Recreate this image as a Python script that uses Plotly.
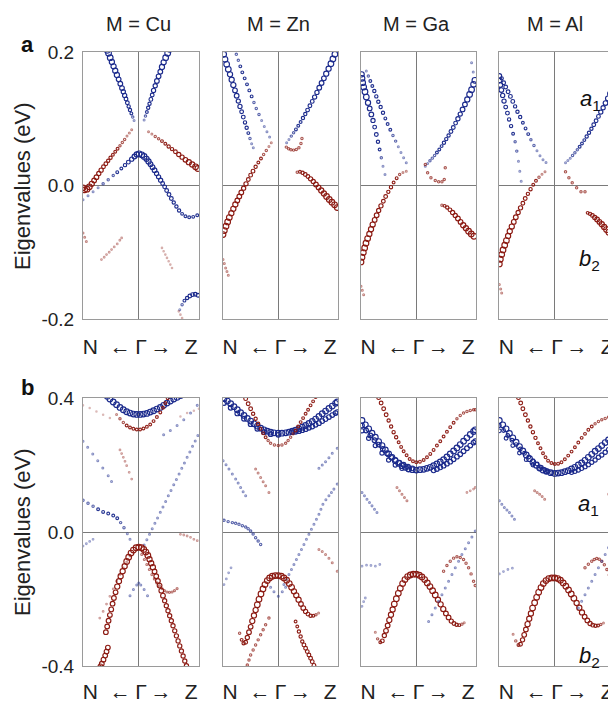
import plotly.graph_objects as go

BLUE = "#1b2a8c"
RED = "#8c1a12"
COLORS = {"b": BLUE, "r": RED}

# ---------------- data: fat bands (k along N<-Gamma->Z, energy in eV, projected weight) -------------
# panel a, M = Cu
A_CU = [
    ("b", [-0.084,-0.108,-0.133,-0.157,-0.181,-0.205,-0.229,-0.253,-0.277,-0.301,-0.331,-0.361,-0.392,-0.422,-0.452,-0.482,-0.512,-0.542,-0.566],
          [0.0975,0.1025,0.108,0.113,0.1185,0.124,0.1295,0.135,0.1405,0.146,0.1525,0.159,0.1655,0.172,0.1785,0.185,0.1915,0.198,0.2025],
          [1,1.5,2,2.5,2.5,3,3,3.5,3.5,4,4,4,4.5,4.5,4.5,4.5,5,5,5]),
    ("b", [0.096,0.12,0.145,0.169,0.193,0.217,0.241,0.265,0.295,0.325,0.355,0.386,0.416,0.446,0.482,0.518,0.554],
          [0.098,0.104,0.11,0.1165,0.1225,0.129,0.1355,0.1425,0.1495,0.1565,0.1635,0.1705,0.1775,0.1845,0.1915,0.198,0.204],
          [1,1.5,2,2.5,2.5,3,3,3.5,3.5,4,4,4,4.5,4.5,5,5,5]),
    ("r", [-0.127,-0.169,-0.211,-0.253,-0.295,-0.337,-0.38,-0.422,-0.464,-0.506,-0.548,-0.59,-0.633,-0.675,-0.717,-0.759,-0.801,-0.843,-0.886,-0.928,-0.97,-1.0],
          [0.0835,0.0785,0.074,0.069,0.0645,0.0595,0.055,0.0505,0.046,0.0415,0.037,0.0325,0.028,0.023,0.018,0.0125,0.0075,0.0025,-0.002,-0.0055,-0.0065,-0.0035],
          [1,1,1,1.5,1.5,1.5,2,2,2,2.5,2.5,3,3,3.5,3.5,4,4,4.5,5,5,5,5]),
    ("b", [-1.0,-0.91,-0.819,-0.729,-0.639,-0.548,-0.458,-0.386,-0.313,-0.247,-0.187,-0.127,-0.078,-0.036,0.006,0.054,0.096,0.139,0.175,0.211,0.247,0.283,0.319,0.355,0.392,0.428,0.464,0.5,0.542,0.584,0.627,0.675,0.723,0.777,0.837,0.904,0.976,1.048],
          [-0.0215,-0.0155,-0.0095,-0.0035,0.0025,0.0085,0.015,0.02,0.0255,0.0305,0.035,0.0395,0.0435,0.0465,0.0475,0.046,0.0435,0.04,0.036,0.032,0.0275,0.023,0.018,0.013,0.008,0.003,-0.002,-0.0075,-0.0135,-0.0195,-0.0255,-0.0315,-0.0375,-0.0425,-0.046,-0.0475,-0.047,-0.0445],
          [1,1,1,1,1.5,1.5,1.5,2,2,2.5,3,3.5,4,4.5,5,5,5,4.5,4.5,4,4,4,3.5,3.5,3.5,3,3,3,3,3,2.5,2.5,2.5,2,2,2,2,2]),
    ("r", [0.175,0.235,0.295,0.355,0.416,0.476,0.536,0.596,0.657,0.717,0.777,0.837,0.898,0.958,1.018,1.06],
          [0.0805,0.077,0.0735,0.07,0.0665,0.0625,0.0585,0.0545,0.0505,0.0465,0.0425,0.0385,0.035,0.0315,0.028,0.0255],
          [1,1,1.5,1.5,2,2,2.5,2.5,3,3.5,3.5,4,4.5,4.5,5,5]),
    ("r", [-1.0,-0.97,-0.94], [-0.071,-0.0775,-0.084], 1),
    ("r", [-0.669,-0.62,-0.578,-0.53,-0.488,-0.44,-0.386,-0.34,-0.307],
          [-0.111,-0.1075,-0.1035,-0.1,-0.096,-0.092,-0.0875,-0.082,-0.0785], 0.8),
    ("r", [0.416,0.446,0.476,0.506,0.536,0.566,0.596], [-0.0935,-0.0985,-0.1035,-0.1085,-0.1135,-0.1185,-0.1235], 0.6),
    ("b", [0.735,0.777,0.819,0.867,0.916,0.964,1.012,1.06], [-0.186,-0.1785,-0.1725,-0.1685,-0.1655,-0.1635,-0.163,-0.1645],
          [1,1.5,2,2.5,3,3,3,3]),
    ("r", [0.717,0.747,0.777], [-0.1885,-0.1935,-0.1985], 0.6),
]

# panel a, M = Zn
A_ZN = [
    ("b", [-0.988,-0.964,-0.934,-0.904,-0.873,-0.843,-0.813,-0.783,-0.753,-0.723,-0.693,-0.663,-0.633,-0.602,-0.572,-0.542,-0.512,-0.482,-0.452],
          [0.1965,0.189,0.1815,0.174,0.1665,0.1585,0.1505,0.1425,0.1345,0.1265,0.1185,0.1105,0.1025,0.0945,0.0865,0.0785,0.0705,0.0625,0.0565],
          [5,5,5,5,4.5,4.5,4.5,4,4,3.5,3.5,3,3,2.5,2.5,2,1.5,1,1]),
    ("b", [-0.759,-0.723,-0.687,-0.651,-0.608,-0.566,-0.524,-0.482,-0.44,-0.398,-0.349,-0.301,-0.253,-0.205,-0.157],
          [0.1965,0.1875,0.1785,0.1695,0.1605,0.1515,0.1425,0.1335,0.1245,0.1155,0.1065,0.0975,0.0885,0.0805,0.0725],
          [1.5,1.5,2,2,2,2,2,2,1.5,1.5,1.5,1,1,1,1]),
    ("r", [-1.0,-0.976,-0.946,-0.916,-0.886,-0.849,-0.813,-0.777,-0.741,-0.705,-0.669,-0.627,-0.584,-0.542,-0.5,-0.458,-0.41,-0.361,-0.313,-0.265,-0.217,-0.169,-0.127],
          [-0.0735,-0.0675,-0.061,-0.0545,-0.048,-0.0415,-0.035,-0.0285,-0.0225,-0.0165,-0.0105,-0.004,0.0025,0.009,0.0155,0.0215,0.028,0.0345,0.0405,0.0465,0.0525,0.0585,0.064],
          [5,5,5,5,5,4.5,4.5,4.5,4,4,4,3.5,3.5,3,3,3,2.5,2,2,1.5,1.5,1,1]),
    ("r", [-1.0,-0.976,-0.952,-0.928,-0.904], [-0.111,-0.117,-0.1235,-0.129,-0.1345], 1),
    ("b", [0.151,0.193,0.235,0.277,0.319,0.361,0.404,0.446,0.488,0.53,0.572,0.614,0.657,0.699,0.741,0.783,0.825,0.867,0.91,0.952,0.988,1.024],
          [0.064,0.069,0.074,0.079,0.084,0.0895,0.095,0.101,0.107,0.113,0.1195,0.126,0.1325,0.1395,0.1465,0.1535,0.1605,0.1675,0.175,0.1825,0.1895,0.1965],
          [1,1,1.5,1.5,2,2,2,2.5,2.5,3,3,3,3.5,3.5,4,4,4,4.5,4.5,5,5,5]),
    ("r", [0.145,0.187,0.229,0.277,0.325,0.373,0.41,0.428], [0.0575,0.055,0.0535,0.053,0.054,0.0565,0.063,0.0705], 1.5),
    ("r", [0.343,0.392,0.44,0.488,0.536,0.584,0.633,0.681,0.729,0.777,0.825,0.873,0.922,0.97,1.018,1.066],
          [0.02,0.0205,0.019,0.0165,0.0135,0.01,0.006,0.0015,-0.003,-0.0075,-0.012,-0.0165,-0.021,-0.025,-0.029,-0.033],
          [1.5,2,2.5,3,3,3.5,3.5,4,4,4.5,4.5,5,5,5,5,5]),
]

# panel a, M = Ga
A_GA = [
    ("b", [-0.988,-0.982,-0.97,-0.952,-0.928,-0.904,-0.873,-0.843,-0.813,-0.783,-0.753,-0.723,-0.693,-0.663,-0.633,-0.602,-0.566],
          [0.1665,0.1605,0.154,0.1475,0.1405,0.1325,0.124,0.1155,0.1065,0.0975,0.0875,0.0765,0.0655,0.054,0.0415,0.029,0.0165],
          [4.5,5,5,5,5,5,4.5,4,4,3.5,3,3,2.5,2,1.5,1,1]),
    ("b", [-0.904,-0.867,-0.831,-0.795,-0.759,-0.723,-0.687,-0.645,-0.602,-0.56,-0.518,-0.47,-0.422,-0.373,-0.325,-0.277,-0.229,-0.181],
          [0.1715,0.164,0.1565,0.149,0.1415,0.1335,0.1255,0.1175,0.109,0.1005,0.092,0.0835,0.075,0.0665,0.058,0.0495,0.0415,0.034],
          [1,1.5,2,2,2.5,2.5,2.5,2.5,2.5,2,2,2,1.5,1.5,1,1,1,1]),
    ("r", [-1.0,-0.982,-0.958,-0.934,-0.91,-0.88,-0.849,-0.819,-0.789,-0.753,-0.717,-0.681,-0.639,-0.596,-0.554,-0.506,-0.458,-0.41,-0.355,-0.301,-0.241,-0.181],
          [-0.1145,-0.1075,-0.1005,-0.0935,-0.0865,-0.0795,-0.0725,-0.0655,-0.0585,-0.0515,-0.0445,-0.0375,-0.0305,-0.0235,-0.0165,-0.0095,-0.0025,0.0045,0.011,0.0165,0.0195,0.0215],
          [5,5,5,5,5,5,4.5,4.5,4.5,4,4,3.5,3.5,3,3,2.5,2.5,2,2,1.5,1,1]),
    ("r", [-1.0,-0.976,-0.952], [-0.151,-0.157,-0.1635], 1),
    ("b", [0.163,0.205,0.247,0.289,0.331,0.373,0.416,0.458,0.5,0.542,0.584,0.627,0.669,0.711,0.753,0.795,0.837,0.88,0.922,0.964,1.0,1.036,1.06],
          [0.029,0.033,0.037,0.041,0.045,0.0495,0.054,0.059,0.064,0.0695,0.075,0.081,0.087,0.0935,0.1,0.107,0.114,0.1215,0.129,0.1365,0.1435,0.1515,0.1575],
          [1,1,1.5,1.5,1.5,2,2,2,2.5,2.5,2.5,3,3,3,3.5,3.5,4,4,4.5,5,5,5,5]),
    ("b", [1.0,1.03], [0.184,0.17], 1),
    ("r", [0.163,0.205,0.265,0.343,0.404,0.464,0.506,0.524], [0.0315,0.019,0.0115,0.0075,0.0055,0.0055,0.009,0.0265], 1.5),
    ("r", [0.464,0.512,0.56,0.608,0.657,0.705,0.753,0.801,0.849,0.898,0.946,0.994,1.042],
          [-0.0295,-0.0305,-0.033,-0.0365,-0.0405,-0.045,-0.0495,-0.0545,-0.0595,-0.064,-0.0685,-0.0725,-0.076],
          [1.5,2,2.5,3,3.5,3.5,4,4,4.5,4.5,5,5,5]),
]

# panel a, M = Al
A_AL = [
    ("b", [-0.994,-0.988,-0.976,-0.958,-0.934,-0.91,-0.88,-0.849,-0.819,-0.783,-0.747,-0.711,-0.681,-0.651,-0.627,-0.602],
          [0.164,0.1575,0.1505,0.143,0.135,0.1265,0.1175,0.1085,0.099,0.089,0.0775,0.0655,0.0515,0.0365,0.0215,0.0065],
          [4,4,4,4,3.5,3.5,3,3,2.5,2.5,2,1.5,1.5,1,1,1]),
    ("b", [-0.952,-0.916,-0.88,-0.837,-0.795,-0.753,-0.711,-0.669,-0.62,-0.572,-0.524,-0.476,-0.428,-0.373,-0.319,-0.265,-0.211,-0.157],
          [0.1605,0.154,0.1475,0.1405,0.1335,0.126,0.1185,0.1105,0.1025,0.094,0.0855,0.077,0.0685,0.06,0.052,0.0445,0.0385,0.0345],
          [2.5,3,3,3,3,3,2.5,2.5,2.5,2,2,2,1.5,1.5,1,1,1,1]),
    ("r", [-0.994,-0.976,-0.952,-0.928,-0.898,-0.867,-0.837,-0.807,-0.771,-0.735,-0.699,-0.657,-0.614,-0.572,-0.53,-0.482,-0.434,-0.386,-0.337,-0.283,-0.229,-0.175],
          [-0.1175,-0.1105,-0.1035,-0.0965,-0.0895,-0.0825,-0.0755,-0.0685,-0.0615,-0.0545,-0.0475,-0.0405,-0.0335,-0.0265,-0.0195,-0.0125,-0.0055,0.001,0.007,0.0125,0.017,0.0205],
          [5,5,5,5,5,5,4.5,4.5,4.5,4,4,3.5,3.5,3,3,2.5,2.5,2,2,1.5,1,1]),
    ("r", [-0.994,-0.97,-0.952], [-0.1485,-0.155,-0.161], 1),
    ("b", [0.193,0.235,0.277,0.319,0.361,0.404,0.446,0.488,0.53,0.572,0.614,0.657,0.699,0.741,0.783,0.825,0.867,0.91,0.952,0.994,1.036,1.072],
          [0.034,0.0375,0.041,0.045,0.049,0.0535,0.058,0.063,0.068,0.0735,0.079,0.085,0.091,0.097,0.1035,0.11,0.1165,0.1235,0.1305,0.1375,0.1445,0.1515],
          [1,1,1,1.5,1.5,1.5,2,2,2,2.5,2.5,2.5,3,3,3,3.5,3.5,4,4,4.5,4.5,4.5]),
    ("r", [0.193,0.253,0.313,0.392,0.47,0.542], [0.0205,0.0115,0.004,-0.0035,-0.0095,-0.0095], 1.5),
    ("r", [0.59,0.633,0.675,0.717,0.759,0.801,0.843,0.886,0.928,0.97,1.012,1.054],
          [-0.041,-0.0425,-0.045,-0.048,-0.051,-0.0545,-0.058,-0.062,-0.066,-0.07,-0.074,-0.078],
          [2,2.5,3,3.5,4,4,4.5,4.5,5,5,5,5]),
]

# panel b, M = Cu
B_CU = [
    ("b", [-0.566,-0.518,-0.458,-0.398,-0.337,-0.277,-0.217,-0.157,-0.096,-0.036,0.024,0.084,0.145,0.205,0.265,0.325,0.386,0.446,0.506,0.566,0.627,0.687,0.747],
          [0.405,0.397,0.388,0.38,0.372,0.365,0.359,0.355,0.352,0.351,0.351,0.352,0.354,0.358,0.362,0.367,0.372,0.378,0.385,0.391,0.397,0.402,0.407], 5),
    ("r", [-0.398,-0.337,-0.277,-0.217,-0.157,-0.096,-0.036,0.024,0.084,0.145,0.205,0.265,0.325,0.386,0.434,0.476,0.518],
          [0.351,0.338,0.327,0.318,0.312,0.308,0.306,0.306,0.309,0.314,0.321,0.331,0.343,0.357,0.371,0.385,0.399],
          [1,1.5,1.5,2,2,2,2,2,2,2,2,2,2,2,2,2,2]),
    ("r", [-1.0,-0.88,-0.759,-0.639,-0.518], [0.378,0.37,0.36,0.35,0.34], 0.5),
    ("r", [0.747,0.867,0.988,1.078], [0.345,0.355,0.362,0.368], 0.5),
    ("b", [0.446,0.566,0.687,0.807,0.928,1.048], [0.29,0.303,0.318,0.335,0.355,0.378], 1),
    ("b", [-1.0,-0.916,-0.825,-0.735,-0.645,-0.548,-0.488], [0.271,0.253,0.233,0.213,0.191,0.168,0.151], 1),
    ("r", [-0.337,-0.307,-0.277,-0.247,-0.217,-0.172,-0.127], [0.245,0.234,0.223,0.211,0.198,0.178,0.158], 0.8),
    ("b", [-1.0,-0.91,-0.819,-0.729,-0.639,-0.548,-0.458,-0.386,-0.325,-0.265,-0.205,-0.157],
          [0.095,0.086,0.077,0.068,0.06,0.055,0.049,0.041,0.028,0.013,-0.005,-0.022],
          [1.5,1.5,1.5,2,2,2,2,2,1.5,1.5,1,1]),
    ("b", [0.096,0.145,0.193,0.241,0.289,0.337,0.386,0.434,0.482,0.53,0.578,0.627,0.675,0.723,0.771,0.819,0.867,0.916,0.964,1.012,1.06],
          [-0.039,-0.023,-0.007,0.01,0.026,0.042,0.059,0.075,0.091,0.108,0.124,0.141,0.157,0.173,0.19,0.206,0.223,0.239,0.256,0.272,0.288], 1),
    ("b", [-0.157,-0.096,-0.036,0.0,0.036,0.096,0.157], [-0.19,-0.172,-0.158,-0.152,-0.158,-0.172,-0.19], 1),
    ("r", [-0.59,-0.566,-0.542,-0.518,-0.494,-0.47,-0.446,-0.416,-0.386,-0.355,-0.325,-0.289,-0.253,-0.217,-0.181,-0.139,-0.096,-0.048,0.0,0.048,0.09,0.127,0.163,0.193,0.223,0.253,0.283,0.313,0.343,0.373,0.404,0.434,0.464,0.494,0.524,0.554,0.584,0.614,0.645,0.675,0.705,0.735,0.765,0.795,0.825,0.855],
          [-0.299,-0.282,-0.265,-0.248,-0.231,-0.214,-0.197,-0.18,-0.163,-0.147,-0.132,-0.117,-0.102,-0.088,-0.075,-0.063,-0.054,-0.047,-0.045,-0.047,-0.052,-0.06,-0.07,-0.081,-0.093,-0.105,-0.118,-0.132,-0.146,-0.16,-0.175,-0.19,-0.205,-0.22,-0.235,-0.25,-0.265,-0.28,-0.295,-0.31,-0.325,-0.34,-0.355,-0.37,-0.385,-0.399],
          [4,4,4,4,4,4,4,4,4.5,4.5,4.5,4.5,4.5,5,5,5,5,5,5,5,5,5,5,4.5,4.5,4.5,4,4,4,4,4,4,3.5,3.5,3.5,3.5,3.5,3.5,3.5,3.5,3.5,3.5,3.5,3.5,3.5,3.5]),
    ("r", [-0.554,-0.578,-0.602,-0.633,-0.663,-0.687], [-0.345,-0.357,-0.369,-0.381,-0.393,-0.401], 4),
    ("r", [0.054,0.1,0.145,0.19,0.235,0.28,0.325,0.37,0.416,0.46,0.506,0.55,0.596,0.64,0.687],
          [-0.067,-0.082,-0.097,-0.112,-0.127,-0.14,-0.152,-0.161,-0.169,-0.175,-0.179,-0.18,-0.179,-0.175,-0.169], 1.2),
    ("r", [-0.157,-0.217,-0.277,-0.337,-0.398,-0.458,-0.518,-0.578,-0.639,-0.699],
          [-0.072,-0.09,-0.107,-0.127,-0.147,-0.17,-0.192,-0.215,-0.237,-0.257], 0.8),
    ("r", [0.747,0.807,0.867,0.928,0.988,1.048], [-0.007,-0.009,-0.012,-0.016,-0.022,-0.026], 0.8),
    ("b", [-1.0,-0.94,-0.88,-0.82], [-0.042,-0.035,-0.028,-0.022], 0.8),
]

# panel b, M = Zn
B_ZN = [
    ("b", [-0.982,-0.921,-0.861,-0.801,-0.741,-0.681,-0.62,-0.56,-0.5,-0.44,-0.38,-0.319,-0.259,-0.199,-0.139,-0.078,0.0,0.066,0.133,0.193,0.253,0.313,0.373,0.434,0.494,0.554,0.614,0.675,0.735,0.795,0.855,0.916,0.976,1.036,1.066],
          [0.398,0.391,0.383,0.374,0.365,0.356,0.348,0.339,0.331,0.323,0.316,0.31,0.305,0.301,0.298,0.296,0.295,0.295,0.296,0.298,0.301,0.304,0.308,0.313,0.318,0.324,0.33,0.337,0.345,0.353,0.361,0.369,0.376,0.384,0.388], 5),
    ("b", [-0.982,-0.861,-0.741,-0.62,-0.5,-0.38,-0.259,-0.139,0.0], [0.385,0.371,0.354,0.338,0.322,0.308,0.298,0.292,0.29], 4),
    ("b", [0.253,0.313,0.373,0.434,0.494,0.554,0.614,0.675,0.735,0.795,0.855,0.916,0.976,1.036,1.066],
          [0.298,0.299,0.301,0.304,0.307,0.311,0.315,0.32,0.325,0.331,0.337,0.343,0.349,0.355,0.358], 4),
    ("r", [-0.59,-0.545,-0.5,-0.455,-0.41,-0.364,-0.319,-0.274,-0.229,-0.184,-0.139,-0.07,0.0,0.066,0.133,0.178,0.223,0.268,0.313,0.358,0.404,0.449,0.494,0.539,0.584,0.63,0.675],
          [0.398,0.383,0.368,0.353,0.338,0.323,0.308,0.295,0.283,0.273,0.265,0.26,0.258,0.26,0.265,0.273,0.283,0.293,0.303,0.315,0.328,0.34,0.353,0.365,0.378,0.39,0.403],
          [3,3,3,2.5,2.5,2.5,2,2,2,1.5,1.5,1.5,1.5,1.5,1.5,1.5,1.5,1.5,2,2,2,2,2,2,2,2,2]),
    ("b", [-0.998,-0.945,-0.892,-0.831,-0.771,-0.726,-0.681,-0.636,-0.59], [0.213,0.201,0.188,0.173,0.158,0.146,0.133,0.12,0.108], 1),
    ("r", [-0.41,-0.365,-0.319,-0.274,-0.229,-0.169], [0.188,0.176,0.163,0.15,0.138,0.118], 1),
    ("b", [-0.982,-0.907,-0.831,-0.771,-0.711,-0.65,-0.59,-0.545,-0.5,-0.455,-0.41,-0.364,-0.319],
          [0.035,0.031,0.028,0.026,0.023,0.019,0.015,0.01,0.003,-0.006,-0.017,-0.027,-0.037], 1.5),
    ("b", [0.102,0.147,0.193,0.238,0.283,0.328,0.373,0.419,0.464,0.509,0.554,0.599,0.645,0.69,0.735,0.771,0.807,0.861,0.916,0.961,1.006,1.066],
          [-0.157,-0.142,-0.127,-0.112,-0.097,-0.082,-0.067,-0.052,-0.037,-0.022,-0.007,0.008,0.023,0.038,0.053,0.068,0.083,0.096,0.108,0.118,0.128,0.143], 1),
    ("b", [0.735,0.795,0.855,0.916,0.976,1.066], [0.19,0.2,0.21,0.222,0.235,0.25], 1),
    ("b", [-0.139,-0.078,0.0,0.072,0.133], [-0.165,-0.178,-0.192,-0.178,-0.165], 1),
    ("r", [-0.699,-0.663,-0.627,-0.59,-0.56,-0.53,-0.5,-0.47,-0.44,-0.41,-0.38,-0.349,-0.313,-0.277,-0.241,-0.199,-0.157,-0.108,-0.054,0.0,0.054,0.102,0.151,0.199,0.241,0.283,0.325,0.367,0.41,0.452,0.494,0.536,0.584,0.633,0.681,0.729],
          [-0.302,-0.322,-0.332,-0.329,-0.315,-0.299,-0.283,-0.266,-0.249,-0.233,-0.217,-0.201,-0.185,-0.17,-0.157,-0.145,-0.137,-0.132,-0.13,-0.13,-0.132,-0.137,-0.144,-0.154,-0.165,-0.177,-0.189,-0.202,-0.215,-0.227,-0.237,-0.245,-0.25,-0.25,-0.247,-0.242],
          [1.5,2,2.5,3,3.5,4,4,4.5,4.5,4.5,5,5,5,5,5,5,5,5,5,5,5,5,5,5,5,4.5,4.5,4.5,4,4,3.5,3,2.5,2,1.5,1]),
    ("r", [0.313,0.343,0.373,0.404,0.434,0.464,0.494,0.524,0.554,0.584,0.614,0.645],
          [-0.267,-0.282,-0.297,-0.312,-0.327,-0.337,-0.347,-0.357,-0.367,-0.377,-0.387,-0.398],
          [2,2,2.5,2.5,2.5,3,3,3,3,3,3,3]),
    ("r", [-0.56,-0.53,-0.5,-0.455,-0.41,-0.364,-0.319,-0.274,-0.229,-0.169],
          [-0.397,-0.382,-0.367,-0.352,-0.337,-0.322,-0.307,-0.292,-0.277,-0.257], 1.5),
    ("r", [0.735,0.795,0.855,0.916,0.976,1.066], [-0.052,-0.058,-0.067,-0.078,-0.092,-0.117], 1),
    ("b", [-0.982,-0.94,-0.898,-0.855], [-0.157,-0.14,-0.122,-0.107], 0.8),
]

# panel b, M = Ga
B_GA = [
    ("b", [-0.982,-0.921,-0.861,-0.801,-0.741,-0.681,-0.62,-0.56,-0.5,-0.44,-0.38,-0.319,-0.259,-0.199,-0.139,-0.07,0.0,0.066,0.133,0.193,0.253,0.313,0.373,0.434,0.494,0.554,0.614,0.675,0.735,0.795,0.855,0.916,0.976,1.036,1.066],
          [0.333,0.32,0.308,0.295,0.283,0.27,0.258,0.245,0.233,0.223,0.213,0.205,0.198,0.193,0.189,0.186,0.185,0.186,0.187,0.19,0.193,0.198,0.203,0.209,0.216,0.224,0.233,0.242,0.251,0.261,0.271,0.281,0.291,0.3,0.305], 5),
    ("b", [0.313,0.373,0.434,0.494,0.554,0.614,0.675,0.735,0.795,0.855,0.916,0.976,1.036,1.066],
          [0.184,0.188,0.193,0.198,0.204,0.21,0.217,0.225,0.232,0.241,0.25,0.258,0.267,0.271], 4),
    ("b", [-0.982,-0.907,-0.831,-0.756,-0.681,-0.605,-0.53,-0.455,-0.38,-0.305,-0.229,-0.15,-0.07],
          [0.318,0.303,0.288,0.274,0.261,0.248,0.235,0.224,0.215,0.207,0.201,0.195,0.19], 4),
    ("b", [-0.982,-0.861,-0.741,-0.62,-0.5,-0.38,-0.259,-0.139], [0.302,0.28,0.258,0.236,0.215,0.2,0.19,0.186], 3.5),
    ("r", [-0.681,-0.636,-0.59,-0.545,-0.5,-0.455,-0.41,-0.364,-0.319,-0.274,-0.229,-0.175,-0.12,-0.06,0.0,0.066,0.133,0.193,0.253,0.313,0.373,0.434,0.494,0.554,0.614,0.675,0.735,0.795,0.855,0.916,0.976,1.036,1.066],
          [0.401,0.385,0.368,0.35,0.333,0.315,0.298,0.283,0.268,0.254,0.241,0.229,0.218,0.211,0.208,0.21,0.215,0.223,0.233,0.245,0.258,0.271,0.285,0.299,0.313,0.326,0.338,0.348,0.355,0.36,0.363,0.365,0.365],
          [3,3,3,3,2.5,2.5,2.5,2.5,2,2,2,2,2,2,2,2,2,2,2,2,2,2,2,2,2,2,1.5,1.5,1.5,1.5,1.5,1.5,1.5]),
    ("b", [-0.982,-0.937,-0.892,-0.846,-0.801,-0.756,-0.711], [0.118,0.108,0.098,0.088,0.078,0.068,0.058], 1),
    ("r", [-0.349,-0.304,-0.259,-0.214,-0.169], [0.133,0.123,0.113,0.103,0.093], 1),
    ("r", [0.916,0.976,1.036,1.066], [0.118,0.123,0.128,0.133], 0.8),
    ("r", [-0.741,-0.699,-0.651,-0.614,-0.578,-0.548,-0.518,-0.488,-0.458,-0.428,-0.398,-0.361,-0.325,-0.289,-0.247,-0.205,-0.157,-0.108,-0.054,0.0,0.054,0.102,0.151,0.199,0.247,0.295,0.343,0.392,0.44,0.488,0.536,0.584,0.633,0.681,0.729,0.777,0.825,0.867],
          [-0.299,-0.319,-0.329,-0.325,-0.309,-0.295,-0.279,-0.263,-0.247,-0.231,-0.215,-0.199,-0.183,-0.168,-0.154,-0.142,-0.133,-0.128,-0.126,-0.126,-0.129,-0.134,-0.142,-0.152,-0.163,-0.175,-0.188,-0.202,-0.216,-0.23,-0.243,-0.255,-0.266,-0.273,-0.277,-0.278,-0.275,-0.271],
          [1,1.5,2,3,3.5,4,4,4.5,4.5,4.5,5,5,5,5,5,5,5,5,5,5,5,5,5,5,5,5,5,4.5,4.5,4.5,4,4,3.5,3,2.5,2,1.5,1]),
    ("r", [0.494,0.554,0.614,0.675,0.735,0.795,0.855,0.9,0.946,0.991,1.036,1.066],
          [-0.117,-0.1,-0.087,-0.078,-0.074,-0.076,-0.082,-0.093,-0.107,-0.125,-0.147,-0.16], 1.5),
    ("b", [0.223,0.283,0.343,0.404,0.464,0.524,0.584,0.645,0.705,0.765,0.825,0.886,0.946,1.006,1.066],
          [-0.267,-0.247,-0.227,-0.207,-0.187,-0.167,-0.147,-0.127,-0.107,-0.087,-0.067,-0.05,-0.032,-0.015,0.003], 1),
    ("b", [-0.982,-0.9,-0.82,-0.74,-0.66], [-0.102,-0.099,-0.1,-0.102,-0.097], 0.8),
    ("b", [-0.982,-0.952,-0.922], [-0.222,-0.208,-0.197], 0.8),
]

# panel b, M = Al
B_AL = [
    ("b", [-0.994,-0.933,-0.873,-0.813,-0.753,-0.693,-0.633,-0.572,-0.512,-0.452,-0.392,-0.331,-0.271,-0.211,-0.151,-0.075,0.0,0.06,0.12,0.181,0.241,0.301,0.361,0.422,0.482,0.542,0.602,0.663,0.723,0.783,0.843,0.904,0.964,1.024,1.072],
          [0.333,0.32,0.308,0.294,0.281,0.268,0.255,0.242,0.23,0.219,0.208,0.199,0.191,0.185,0.181,0.177,0.175,0.176,0.177,0.18,0.183,0.188,0.193,0.2,0.206,0.214,0.223,0.232,0.241,0.249,0.258,0.267,0.275,0.283,0.291], 5),
    ("b", [0.301,0.361,0.422,0.482,0.542,0.602,0.663,0.723,0.783,0.843,0.904,0.964,1.024,1.072],
          [0.178,0.181,0.185,0.19,0.195,0.201,0.208,0.215,0.223,0.23,0.238,0.246,0.253,0.261], 3.5),
    ("b", [-0.994,-0.918,-0.843,-0.768,-0.693,-0.617,-0.542,-0.467,-0.392,-0.316,-0.241,-0.181,-0.12,-0.06],
          [0.318,0.303,0.288,0.274,0.261,0.248,0.235,0.224,0.213,0.203,0.193,0.186,0.181,0.177], 3),
    ("b", [-0.994,-0.873,-0.753,-0.633,-0.512,-0.392,-0.271,-0.151], [0.302,0.28,0.258,0.236,0.216,0.2,0.189,0.18], 3),
    ("r", [-0.651,-0.611,-0.572,-0.527,-0.482,-0.437,-0.392,-0.346,-0.301,-0.256,-0.211,-0.166,-0.12,-0.06,0.0,0.06,0.12,0.181,0.241,0.301,0.361,0.422,0.482,0.542,0.602,0.663,0.723,0.783,0.843,0.904,0.964,1.024,1.072],
          [0.401,0.385,0.368,0.35,0.333,0.315,0.298,0.281,0.265,0.25,0.235,0.223,0.213,0.206,0.203,0.204,0.208,0.217,0.228,0.24,0.253,0.267,0.281,0.293,0.305,0.315,0.323,0.33,0.335,0.339,0.343,0.344,0.345],
          [3,3,3,3,2.5,2.5,2.5,2.5,2,2,2,2,2,2,2,2,2,2,2,2,2,2,2,2,2,2,1.5,1.5,1.5,1.5,1.5,1.5,1.5]),
    ("b", [-0.994,-0.949,-0.904,-0.858,-0.813,-0.768,-0.723], [0.093,0.083,0.073,0.066,0.058,0.048,0.038], 1),
    ("r", [-0.361,-0.316,-0.271,-0.226,-0.181], [0.123,0.118,0.113,0.106,0.098], 1),
    ("r", [0.964,1.024,1.072], [0.113,0.116,0.118], 0.8),
    ("r", [-0.747,-0.699,-0.651,-0.614,-0.578,-0.548,-0.518,-0.488,-0.458,-0.428,-0.398,-0.361,-0.325,-0.289,-0.247,-0.205,-0.157,-0.108,-0.054,0.0,0.054,0.102,0.151,0.199,0.247,0.295,0.343,0.392,0.44,0.488,0.536,0.584,0.633,0.681,0.729,0.777,0.825,0.873],
          [-0.305,-0.325,-0.337,-0.335,-0.322,-0.307,-0.291,-0.275,-0.259,-0.243,-0.227,-0.211,-0.195,-0.18,-0.166,-0.154,-0.145,-0.139,-0.137,-0.137,-0.139,-0.144,-0.152,-0.162,-0.173,-0.185,-0.198,-0.212,-0.226,-0.24,-0.253,-0.264,-0.273,-0.278,-0.28,-0.279,-0.276,-0.272],
          [1,1.5,2,3,3.5,4,4,4.5,4.5,4.5,5,5,5,5,5,5,5,5,5,5,5,5,5,5,5,5,5,4.5,4.5,4.5,4,4,3.5,3,2.5,2,1.5,1]),
    ("r", [0.542,0.602,0.663,0.708,0.753,0.798,0.843,0.889,0.934,0.979,1.024,1.072],
          [-0.107,-0.096,-0.087,-0.082,-0.079,-0.081,-0.087,-0.098,-0.112,-0.128,-0.147,-0.165], 1.5),
    ("b", [0.422,0.482,0.542,0.602,0.663,0.723,0.783,0.843,0.904,0.964,1.024,1.072],
          [-0.227,-0.207,-0.187,-0.167,-0.147,-0.127,-0.107,-0.087,-0.067,-0.047,-0.027,-0.01], 1),
    ("b", [-0.994,-0.92,-0.84,-0.76], [-0.125,-0.118,-0.112,-0.108], 0.8),
]

PANELS = [A_CU, A_ZN, A_GA, A_AL, B_CU, B_ZN, B_GA, B_AL]
METALS = ["Cu", "Zn", "Ga", "Al"]
Y_TICKS_A = [-0.2, 0.0, 0.2]
Y_TICKS_B = [-0.4, 0.0, 0.4]
X_TICKVALS = [-0.87, -0.33, 0.04, 0.40, 0.94]
X_TICKTEXT = ["N", "\u2190", "\u0393", "\u2192", "Z"]

# ---------------- figure (page body has an 8 px margin, so the figure is 608 x 694) ----------------
W, H = 608, 694
COLS_PX = [(75, 191), (215, 330), (353, 468), (491, 607)]
ROWS_PX = [(44, 311), (390, 658)]
FONT = "Arial, Liberation Sans, DejaVu Sans, sans-serif"
TXT = "#222222"

fig = go.Figure()
layout = {}
for p, bands in enumerate(PANELS):
    r, c = divmod(p, 4)
    idx = p + 1
    xa = "x" if idx == 1 else f"x{idx}"
    ya = "y" if idx == 1 else f"y{idx}"
    for col, k, e, w in bands:
        ws = w if isinstance(w, list) else [w] * len(k)
        sizes = [0.95 * v + 0.9 for v in ws]
        ops = [min(1.0, 0.1 + 0.42 * v) for v in ws]
        fig.add_trace(go.Scatter(
            x=k, y=e, mode="markers", xaxis=xa, yaxis=ya, showlegend=False, hoverinfo="skip",
            marker=dict(symbol="circle-open", size=sizes, color=COLORS[col], opacity=ops,
                        line=dict(width=1.15, color=COLORS[col]))))
    x0, x1 = COLS_PX[c]
    y0, y1 = ROWS_PX[r]
    yt = Y_TICKS_A if r == 0 else Y_TICKS_B
    layout["xaxis" if idx == 1 else f"xaxis{idx}"] = dict(
        domain=[x0 / W, x1 / W], anchor=ya, range=[-1.0, 1.08], automargin=False,
        showline=True, mirror=True, linecolor="#9a9a9a", linewidth=1,
        showgrid=False, zeroline=True, zerolinecolor="#7a7a7a", zerolinewidth=1,
        tickvals=X_TICKVALS, ticktext=X_TICKTEXT, ticks="outside", ticklen=9 if r == 0 else 7,
        tickcolor="rgba(0,0,0,0)", tickfont=dict(size=21, color=TXT, family=FONT))
    layout["yaxis" if idx == 1 else f"yaxis{idx}"] = dict(
        domain=[1 - y1 / H, 1 - y0 / H], anchor=xa, range=[yt[0], yt[-1]], automargin=False,
        showline=True, mirror=True, linecolor="#9a9a9a", linewidth=1,
        showgrid=False, zeroline=True, zerolinecolor="#7a7a7a", zerolinewidth=1,
        tickvals=yt, ticktext=[f"{v:.1f}" for v in yt], showticklabels=(c == 0),
        ticks="outside", ticklen=4, tickcolor="rgba(0,0,0,0)",
        tickfont=dict(size=19, color=TXT, family=FONT))

annotations = []
def note(text, px, py, size, angle=0, color=TXT):
    annotations.append(dict(text=text, x=px / W, y=1 - py / H, xref="paper", yref="paper",
                            xanchor="center", yanchor="middle", textangle=angle, showarrow=False,
                            font=dict(size=size, color=color, family=FONT)))

for c, m in enumerate(METALS):
    x0, x1 = COLS_PX[c]
    note(f"M = {m}", x0 + (x1 - x0) / 2.08, 16, 20)
for yc in (178, 524):
    note("Eigenvalues (eV)", 14, yc, 22, angle=-90)
note("<b>a</b>", 19, 36, 22, color="#111111")
note("<b>b</b>", 19, 380, 22, color="#111111")
for txt, px, py in [("<i>a</i><sub>1</sub>", 582, 92), ("<i>b</i><sub>2</sub>", 581, 252),
                    ("<i>a</i><sub>1</sub>", 580, 497), ("<i>b</i><sub>2</sub>", 581, 649)]:
    note(txt, px, py, 22, color="#111111")

fig.update_layout(width=W, height=H, margin=dict(l=0, r=0, t=0, b=0, pad=0),
                  paper_bgcolor="white", plot_bgcolor="white",
                  annotations=annotations, **layout)
fig.write_html("out.html")
